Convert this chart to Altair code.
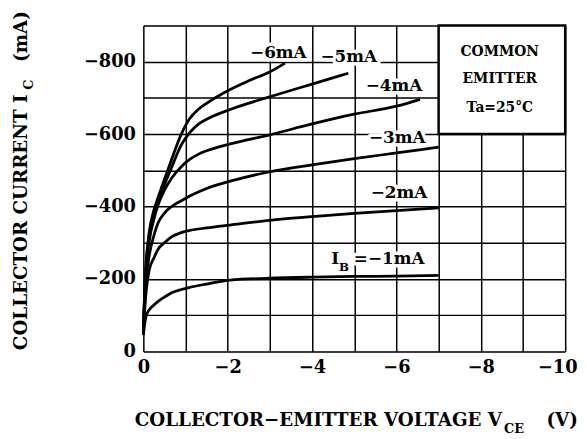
import altair as alt
import pandas as pd

FONT = "DejaVu Serif"

# ---- data (VCE in V, IC in mA) ----
vce_1 = [0, -0.03, -0.07, -0.14, -0.25, -0.35, -0.5, -0.67, -0.9, -1.1, -1.5, -2.06, -3, -4, -5, -6, -7]
ic_1 = [-45, -75, -100, -115, -128, -138, -150, -162, -171, -177, -186, -197, -202, -205, -207, -208, -210]

vce_2 = [0, -0.03, -0.07, -0.14, -0.25, -0.35, -0.5, -0.67, -0.9, -1.1, -1.5, -2.06, -3, -4, -5, -6, -7]
ic_2 = [-50, -110, -170, -225, -258, -282, -300, -316, -328, -334, -341, -349, -362, -372, -381, -389, -396]

vce_3 = [0, -0.03, -0.07, -0.14, -0.25, -0.35, -0.5, -0.67, -0.9, -1.1, -1.5, -2.06, -3, -4, -5, -6, -7]
ic_3 = [-55, -130, -200, -265, -320, -355, -382, -400, -416, -429, -450, -470, -496, -515, -532, -548, -564]

vce_4 = [0, -0.03, -0.07, -0.14, -0.25, -0.35, -0.5, -0.67, -0.9, -1.1, -1.3, -1.5, -2.06, -3, -4, -5, -6, -6.56]
ic_4 = [-60, -150, -235, -305, -365, -405, -445, -478, -510, -530, -544, -554, -573, -598, -628, -655, -677, -696]

vce_5 = [0, -0.03, -0.07, -0.14, -0.25, -0.35, -0.5, -0.67, -0.9, -1.1, -1.3, -1.5, -2.06, -3, -4, -4.86]
ic_5 = [-60, -155, -245, -322, -382, -415, -460, -508, -570, -604, -627, -641, -668, -703, -738, -768]

vce_6 = [0, -0.03, -0.07, -0.14, -0.25, -0.35, -0.5, -0.67, -0.9, -1.1, -1.3, -1.5, -2.06, -2.5, -3, -3.36]
ic_6 = [-60, -160, -250, -330, -390, -425, -475, -530, -600, -643, -668, -685, -723, -747, -772, -796]

series_names = ["-1mA", "-2mA", "-3mA", "-4mA", "-5mA", "-6mA"]
series_v = [vce_1, vce_2, vce_3, vce_4, vce_5, vce_6]
series_i = [ic_1, ic_2, ic_3, ic_4, ic_5, ic_6]

# curve labels (text, anchor V, anchor I, alignment, size)
label_text = ["\u22126mA", "\u22125mA", "\u22124mA", "\u22123mA", "\u22122mA", "I", "B", "=\u22121mA"]
label_v = [-3.2, -4.87, -5.94, -6.02, -6.06, -4.64, -4.64, -4.99]
label_i = [-823, -812, -732, -588, -436, -254, -234, -254]
label_align = ["center", "center", "center", "center", "center", "right", "left", "left"]
label_size = [17, 17, 17, 17, 17, 17, 12, 17]

# condition box
box_text = ["COMMON", "EMITTER", "Ta=25\u00b0C"]
box_v = [-8.45, -8.45, -8.45]
box_i = [-827, -751, -672]
box_extent = {"v1": -7, "v2": -10, "i1": -600, "i2": -900}

x_grid_values = list(range(0, -11, -1))
y_grid_values = list(range(0, -901, -100))

rows = []
for name, vs, cs in zip(series_names, series_v, series_i):
    for v, c in zip(vs, cs):
        rows.append({"ib": name, "vce": v, "ic": c})
curves_df = pd.DataFrame(rows)

labels_df = pd.DataFrame({"t": label_text, "v": label_v, "i": label_i,
                          "al": label_align, "fs": label_size})
box_df = pd.DataFrame({"t": box_text, "v": box_v, "i": box_i})
rect_df = pd.DataFrame([box_extent])

x_scale = alt.Scale(domain=[0, -10], nice=False, zero=False)
y_scale = alt.Scale(domain=[0, -900], nice=False, zero=False)

x_axis = alt.Axis(
    values=x_grid_values,
    labelExpr="datum.value % 2 == 0 ? datum.label : ''",
    grid=True, ticks=False, domain=False, title=None, labelFlush=False,
    labelFont=FONT, labelFontSize=18, labelFontWeight="bold", labelColor="black",
    labelPadding=7, gridColor="black", gridWidth=1.5, gridOpacity=1,
    labelOffset={"condition": {"test": "datum.value == -10", "value": -8}, "value": 0},
)
y_axis = alt.Axis(
    values=y_grid_values,
    labelExpr="datum.value % 200 == 0 ? datum.label : ''",
    grid=True, ticks=False, domain=False, title=None,
    labelFont=FONT, labelFontSize=18, labelFontWeight="bold", labelColor="black",
    labelPadding=8, gridColor="black", gridWidth=1.5, gridOpacity=1,
)


def X(field):
    return alt.X(field, type="quantitative", scale=x_scale, axis=x_axis)


def Y(field):
    return alt.Y(field, type="quantitative", scale=y_scale, axis=y_axis)


box = alt.Chart(rect_df).mark_rect(fill="white", stroke="black", strokeWidth=2.5).encode(
    x=X("v1"), x2="v2", y=Y("i1"), y2="i2"
)

lines = alt.Chart(curves_df).mark_line(
    color="black", strokeWidth=2.8, interpolate="monotone"
).encode(x=X("vce"), y=Y("ic"), detail="ib:N")


def label_layer(align, halo):
    style = dict(font=FONT, fontWeight="bold", baseline="middle", align=align)
    if halo:
        style.update(color="white", stroke="white", strokeWidth=7, strokeJoin="round")
    else:
        style.update(color="black")
    return alt.Chart(labels_df).transform_filter(
        alt.datum.al == align
    ).mark_text(**style).encode(
        x=X("v"), y=Y("i"), text="t:N",
        size=alt.Size("fs:Q", legend=None, scale=None),
    )


aligns = ["center", "right", "left"]
halos = [label_layer(a, True) for a in aligns]
texts = [label_layer(a, False) for a in aligns]

box_labels = alt.Chart(box_df).mark_text(
    font=FONT, fontWeight="bold", fontSize=14, color="black", baseline="middle", align="center"
).encode(x=X("v"), y=Y("i"), text="t:N")


def title_piece(text, x, y, size, align, angle=0):
    return alt.Chart(pd.DataFrame({"t": [text]})).mark_text(
        font=FONT, fontWeight="bold", fontSize=size, color="black",
        align=align, baseline="alphabetic", angle=angle
    ).encode(x=alt.value(x), y=alt.value(y), text="t:N")


titles = [
    title_piece("COLLECTOR\u2212EMITTER VOLTAGE V", 363, 405, 18.5, "right"),
    title_piece("CE", 365, 413, 13, "left"),
    title_piece("(V)", 408, 405, 18.5, "left"),
    title_piece("COLLECTOR CURRENT I", -118, 70, 18.5, "right", 270),
    title_piece("C", -112, 65, 13, "left", 270),
    title_piece("(mA)", -118, 37, 18.5, "left", 270),
]

chart = alt.layer(box, lines, *halos, *texts, box_labels, *titles).properties(
    width=427, height=330,
    autosize=alt.AutoSizeParams(type="none"),
    padding={"left": 137, "top": 15, "right": 14, "bottom": 85},
).configure_view(stroke="black", strokeWidth=3.5).configure(background="white")

chart.save("out.html", embed_options={"renderer": "svg", "actions": False})
